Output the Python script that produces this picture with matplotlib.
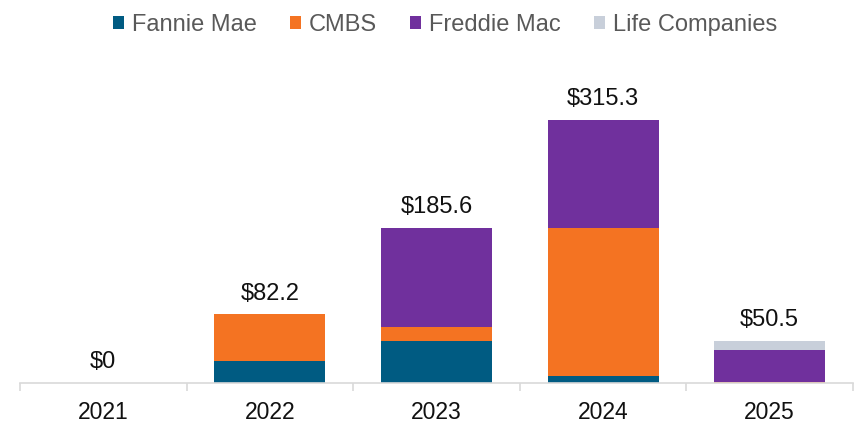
import numpy as np
import matplotlib.pyplot as plt

plt.rcParams['font.family'] = ['Liberation Sans', 'DejaVu Sans']

years = ['2021', '2022', '2023', '2024', '2025']
fannie_mae = [0, 25.9, 49.9, 8.4, 0]
cmbs = [0, 56.3, 16.8, 177.8, 1.0]
freddie_mac = [0, 0, 118.9, 129.1, 38.7]
life_companies = [0, 0, 0, 0, 10.8]
totals = ['$0', '$82.2', '$185.6', '$315.3', '$50.5']

series = [
    ('Fannie Mae', fannie_mae, '#005B82'),
    ('CMBS', cmbs, '#F47322'),
    ('Freddie Mac', freddie_mac, '#70309D'),
    ('Life Companies', life_companies, '#C8CFDA'),
]


def main():
    fig = plt.figure(figsize=(8.56, 4.26), dpi=100)
    ax = fig.add_axes([20 / 856, 43 / 426, 833 / 856, 323 / 426])

    x = np.arange(len(years))
    bottom = np.zeros(len(years))
    for name, vals, color in series:
        vals = np.array(vals)
        ax.bar(x, vals, width=0.666, bottom=bottom, color=color, label=name, zorder=2)
        bottom += vals

    for xi, top, txt in zip(x, bottom, totals):
        ax.annotate(txt, (xi, top), xytext=(0, 7), textcoords='offset points',
                    ha='center', va='bottom', fontsize=17, color='#111111')

    ax.set_xlim(-0.5, len(years) - 0.5)
    ax.set_ylim(0, 387)
    ax.set_yticks([])
    for s in ['top', 'right', 'left']:
        ax.spines[s].set_visible(False)
    ax.spines['bottom'].set_color('#D9D9D9')
    ax.spines['bottom'].set_linewidth(1.2)

    ax.set_xticks(x)
    ax.set_xticklabels(years, fontsize=16.5, color='#111111')
    ax.tick_params(axis='x', which='major', length=0, pad=13)
    ax.set_xticks(np.arange(-0.5, len(years)), minor=True)
    ax.tick_params(axis='x', which='minor', length=6, width=1.2, color='#D9D9D9')

    fig.legend(loc='center left', bbox_to_anchor=(113 / 856, 1 - 25 / 426), ncol=4,
               frameon=False, fontsize=17, labelcolor='#595959',
               handlelength=0.47, handleheight=0.47, handletextpad=0.34,
               columnspacing=1.4, borderaxespad=0, borderpad=0)

    fig.savefig('out.png', dpi=100)


if __name__ == "__main__":
    main()
